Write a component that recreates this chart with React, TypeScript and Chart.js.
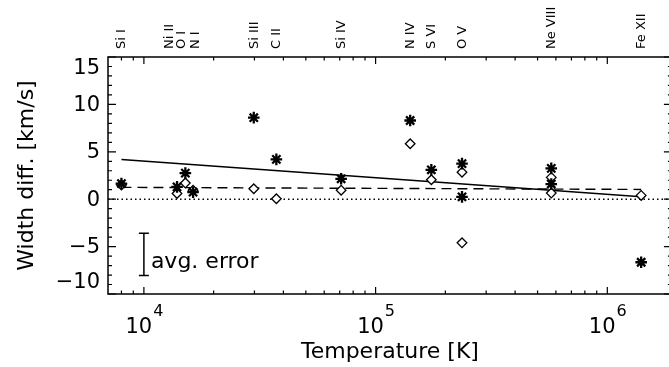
import React, { useEffect, useRef } from 'react';
import { Chart, registerables } from 'chart.js';

Chart.register(...registerables);

// ---- data ----
const ionNames = ['Si I', 'Ni II', 'O I', 'N I', 'Si III', 'C II', 'Si IV', 'N IV', 'S VI', 'O V', 'Ne VIII', 'Fe XII'];
// temperatures at which the ion names are written along the top axis
const ionLabelTemps = [8.0e3, 1.28e4, 1.45e4, 1.67e4, 2.98e4, 3.73e4, 7.1e4, 1.41e5, 1.74e5, 2.36e5, 5.73e5, 1.4e6];

const starTemps = [8.0e3, 1.39e4, 1.51e4, 1.63e4, 2.98e4, 3.73e4, 7.1e4, 1.41e5, 1.74e5, 2.36e5, 2.36e5, 5.73e5, 5.73e5, 1.4e6];
const starValues = [1.65, 1.3, 2.75, 0.75, 8.6, 4.2, 2.15, 8.3, 3.1, 3.75, 0.25, 3.25, 1.6, -6.65];

const diamondTemps = [8.0e3, 1.39e4, 1.51e4, 1.63e4, 2.98e4, 3.73e4, 7.1e4, 1.41e5, 1.74e5, 2.36e5, 2.36e5, 5.73e5, 5.73e5, 1.4e6];
const diamondValues = [1.5, 0.6, 1.7, 0.95, 1.1, 0.05, 0.95, 5.85, 2.05, 2.85, -4.6, 2.3, 0.65, 0.4];

const solidFitT = [8.0e3, 1.4e6];
const solidFitV = [4.2, 0.25];
const dashedFitT = [8.0e3, 1.4e6];
const dashedFitV = [1.25, 1.03];
const zeroLineT = [7.0e3, 1.9e6];
const zeroLineV = [0, 0];

const xMin = 7.0e3;
const xMax = 1.9e6;
const yMin = -10;
const yMax = 15;

const xMajorTicks = [1e4, 1e5, 1e6];
const xMajorExponents = ['4', '5', '6'];
const xMinorTicks = [8e3, 9e3, 2e4, 3e4, 4e4, 5e4, 6e4, 7e4, 8e4, 9e4, 2e5, 3e5, 4e5, 5e5, 6e5, 7e5, 8e5, 9e5];
const yMajorTicks = [-10, -5, 0, 5, 10, 15];
const yMajorLabels = ['\u221210', '\u22125', '0', '5', '10', '15'];
const yMinorTicks = [-9, -8, -7, -6, -4, -3, -2, -1, 1, 2, 3, 4, 6, 7, 8, 9, 11, 12, 13, 14];

const errorBarT = 1.0e4;
const errorBarRange = [-8.05, -3.6];
const errorLabel = 'avg. error';
const errorLabelY = -7.3;

const xTitle = 'Temperature [K]';
const yTitle = 'Width diff. [km/s]';

const FONT = "'DejaVu Sans', sans-serif";

const CANVAS_W = 680;
const CANVAS_H = 367;

const toPts = (xs: number[], ys: number[]) => xs.map((x, i) => ({ x, y: ys[i] }));

const idlAxesPlugin = {
  id: 'idlAxes',
  afterDraw(chart: any) {
    const { ctx, chartArea } = chart;
    const xs = chart.scales.x;
    const ys = chart.scales.y;
    const { left, right, top, bottom } = chartArea;
    ctx.save();
    ctx.strokeStyle = '#000';
    ctx.fillStyle = '#000';
    ctx.lineWidth = 1.5;
    ctx.strokeRect(left, top, right - left, bottom - top);

    // x ticks (bottom and top), inward
    ctx.lineWidth = 1.2;
    const xt = (v: number, len: number) => {
      const px = xs.getPixelForValue(v);
      ctx.beginPath();
      ctx.moveTo(px, bottom);
      ctx.lineTo(px, bottom - len);
      ctx.moveTo(px, top);
      ctx.lineTo(px, top + len);
      ctx.stroke();
    };
    xMajorTicks.forEach((v) => xt(v, 7));
    xMinorTicks.forEach((v) => xt(v, 3.5));

    const yt = (v: number, len: number) => {
      const py = ys.getPixelForValue(v);
      ctx.beginPath();
      ctx.moveTo(left, py);
      ctx.lineTo(left + len, py);
      ctx.moveTo(right, py);
      ctx.lineTo(right - len, py);
      ctx.stroke();
    };
    yMajorTicks.forEach((v) => yt(v, 8));
    yMinorTicks.forEach((v) => yt(v, 4));

    // x labels 10^n
    ctx.textBaseline = 'alphabetic';
    ctx.textAlign = 'left';
    xMajorTicks.forEach((v, i) => {
      const px = xs.getPixelForValue(v);
      ctx.font = `21px ${FONT}`;
      const w1 = ctx.measureText('10').width;
      ctx.font = `16px ${FONT}`;
      const w2 = ctx.measureText(xMajorExponents[i]).width;
      const x0 = px - (w1 + w2) / 2;
      ctx.font = `21px ${FONT}`;
      ctx.fillText('10', x0, bottom + 39);
      ctx.font = `16px ${FONT}`;
      ctx.fillText(xMajorExponents[i], x0 + w1 + 1, bottom + 22);
    });

    // y labels
    ctx.font = `21px ${FONT}`;
    ctx.textAlign = 'right';
    ctx.textBaseline = 'middle';
    yMajorTicks.forEach((v, i) => {
      const py = ys.getPixelForValue(v);
      const cy = Math.min(Math.max(py + 1, top + 12), bottom - 11);
      ctx.fillText(yMajorLabels[i], left - 8, cy);
    });

    // titles
    ctx.font = `22px ${FONT}`;
    ctx.textAlign = 'center';
    ctx.textBaseline = 'middle';
    ctx.fillText(xTitle, (left + right) / 2, bottom + 58);
    ctx.save();
    ctx.translate(27, (top + bottom) / 2);
    ctx.rotate(-Math.PI / 2);
    ctx.fillText(yTitle, 0, 0);
    ctx.restore();

    // ion labels at the top
    ctx.font = `13px ${FONT}`;
    ctx.textAlign = 'left';
    ctx.textBaseline = 'alphabetic';
    ionNames.forEach((name, i) => {
      const px = xs.getPixelForValue(ionLabelTemps[i]);
      ctx.save();
      ctx.translate(px + 4, top - 8);
      ctx.rotate(-Math.PI / 2);
      ctx.fillText(name, 0, 0);
      ctx.restore();
    });

    // average error bar
    const ex = xs.getPixelForValue(errorBarT);
    const ey1 = ys.getPixelForValue(errorBarRange[0]);
    const ey2 = ys.getPixelForValue(errorBarRange[1]);
    ctx.lineWidth = 1.5;
    ctx.beginPath();
    ctx.moveTo(ex, ey1);
    ctx.lineTo(ex, ey2);
    ctx.moveTo(ex - 5, ey1);
    ctx.lineTo(ex + 5, ey1);
    ctx.moveTo(ex - 5, ey2);
    ctx.lineTo(ex + 5, ey2);
    ctx.stroke();
    ctx.font = `22px ${FONT}`;
    ctx.textAlign = 'left';
    ctx.textBaseline = 'alphabetic';
    ctx.fillText(errorLabel, ex + 7, ys.getPixelForValue(errorLabelY));

    ctx.restore();
  },
};

export default function App() {
  const ref = useRef<HTMLCanvasElement | null>(null);
  useEffect(() => {
    if (!ref.current) return;
    const chart = new Chart(ref.current, {
      type: 'scatter',
      data: {
        datasets: [
          {
            label: 'stars',
            data: toPts(starTemps, starValues),
            pointStyle: 'star',
            pointRadius: 5.8,
            pointBorderWidth: 2.3,
            borderColor: '#000',
            backgroundColor: '#000',
            showLine: false,
          } as any,
          {
            label: 'diamonds',
            data: toPts(diamondTemps, diamondValues),
            pointStyle: 'rectRot',
            pointRadius: 4.8,
            pointBorderWidth: 1.3,
            borderColor: '#000',
            backgroundColor: '#fff',
            showLine: false,
          } as any,
          {
            label: 'solid fit',
            data: toPts(solidFitT, solidFitV),
            showLine: true,
            borderColor: '#000',
            borderWidth: 1.5,
            pointRadius: 0,
          } as any,
          {
            label: 'dashed fit',
            data: toPts(dashedFitT, dashedFitV),
            showLine: true,
            borderColor: '#000',
            borderWidth: 1.4,
            borderDash: [10, 6],
            pointRadius: 0,
          } as any,
          {
            label: 'zero',
            data: toPts(zeroLineT, zeroLineV),
            showLine: true,
            borderColor: '#000',
            borderWidth: 1.5,
            borderDash: [1.5, 3],
            pointRadius: 0,
          } as any,
        ],
      },
      options: {
        animation: false,
        responsive: false,
        maintainAspectRatio: false,
        layout: { padding: { left: 108, top: 57, right: CANVAS_W - 673, bottom: CANVAS_H - 294 } },
        plugins: { legend: { display: false }, tooltip: { enabled: false }, title: { display: false } },
        scales: {
          x: { type: 'logarithmic', min: xMin, max: xMax, display: false },
          y: { type: 'linear', min: yMin, max: yMax, display: false },
        },
      },
      plugins: [idlAxesPlugin],
    });
    return () => chart.destroy();
  }, []);

  return (
    <div style={{ position: 'absolute', left: 0, top: 0, width: 669, height: 367, overflow: 'hidden', background: '#fff' }}>
      <canvas ref={ref} width={CANVAS_W} height={CANVAS_H} style={{ display: 'block' }} />
    </div>
  );
}
